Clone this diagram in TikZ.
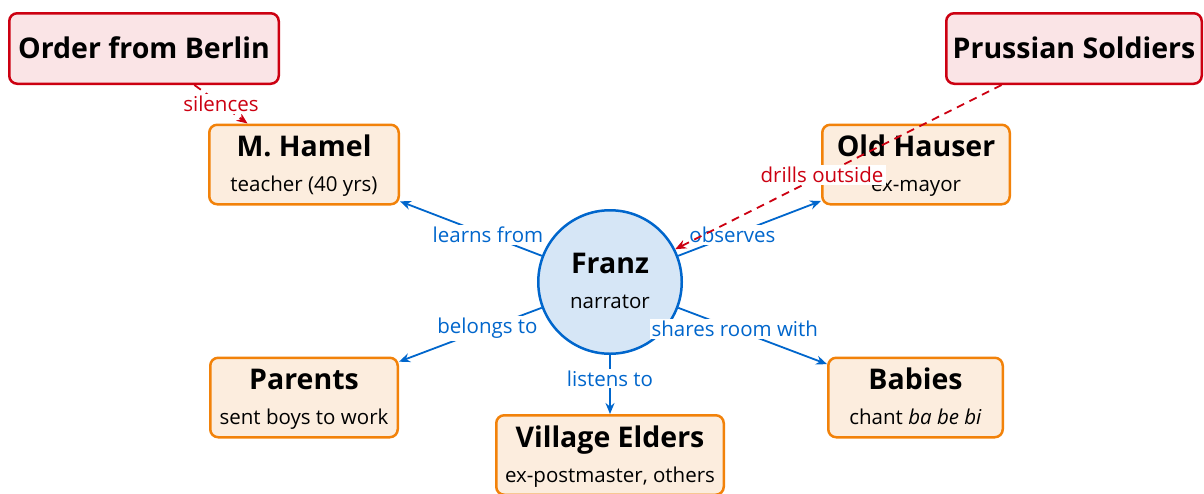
\documentclass[tikz,border=0pt]{standalone}
\usepackage{fontspec}
\setmainfont{Open Sans}
\usetikzlibrary{arrows.meta,calc}
\definecolor{orangeB}{RGB}{242,130,10}
\definecolor{peach}{RGB}{252,237,222}
\definecolor{redB}{RGB}{204,0,17}
\definecolor{pinkF}{RGB}{250,228,230}
\definecolor{blueE}{RGB}{0,102,204}
\definecolor{blueF}{RGB}{214,230,246}
\begin{document}
\begin{tikzpicture}[x=1pt,y=-1pt,
  box/.style={draw=orangeB, fill=peach, line width=2.5pt, rounded corners=8pt, minimum height=79.5pt, inner sep=0pt},
  redbox/.style={draw=redB, fill=pinkF, line width=2.5pt, rounded corners=8pt, minimum height=70.5pt, inner sep=0pt},
  circ/.style={circle, draw=blueE, fill=blueF, line width=2.5pt, minimum size=143.5pt, inner sep=0pt},
  ttl/.style={anchor=base, font=\bfseries\fontsize{28.5}{34}\selectfont, inner sep=0pt},
  sub/.style={anchor=base, font=\fontsize{20.5}{24}\selectfont, inner sep=0pt},
  blueedge/.style={draw=blueE, line width=1.8pt, -{Stealth[length=11pt,width=9pt]}},
  rededge/.style={draw=redB, line width=1.8pt, dash pattern=on 8pt off 6pt, -{Stealth[length=11pt,width=9pt]}},
  elabel/.style={fill=white, inner sep=2pt, font=\fontsize{20.5}{24}\selectfont, text=blueE},
  rlabel/.style={fill=white, inner sep=2pt, font=\fontsize{20.5}{24}\selectfont, text=redB},
]
\useasboundingbox (0,0) rectangle (1204,493);
\clip (0,0) rectangle (1204,493);

% nodes
\node[redbox, minimum width=269.5pt] (berlin) at (144,48.5) {};
\node[ttl] at ($(berlin.center)+(0,9.5)$) {Order from Berlin};
\node[redbox, minimum width=255.5pt] (prussian) at (1074,48.5) {};
\node[ttl] at ($(prussian.center)+(0,9.5)$) {Prussian Soldiers};

\node[box, minimum width=189.5pt] (hamel) at (304,164.5) {};
\node[ttl] at ($(hamel.center)+(0,-8)$) {M. Hamel};
\node[sub] at ($(hamel.center)+(0,27)$) {teacher (40 yrs)};

\node[box, minimum width=187.5pt] (hauser) at (916,164.5) {};
\node[ttl] at ($(hauser.center)+(0,-8)$) {Old Hauser};
\node[sub] at ($(hauser.center)+(0,27)$) {ex-mayor};

\node[box, minimum width=187.5pt] (parents) at (304,397.5) {};
\node[ttl] at ($(parents.center)+(0,-8)$) {Parents};
\node[sub] at ($(parents.center)+(0,27)$) {sent boys to work};

\node[box, minimum width=174.5pt] (babies) at (915.5,397.5) {};
\node[ttl] at ($(babies.center)+(0,-8)$) {Babies};
\node[sub] at ($(babies.center)+(0,27)$) {chant \textit{ba be bi}};

\node[box, minimum width=227.5pt] (elders) at (610,455) {};
\node[ttl] at ($(elders.center)+(0,-8)$) {Village Elders};
\node[sub] at ($(elders.center)+(0,27)$) {ex-postmaster, others};

\node[circ] (franz) at (610,282) {};
\node[ttl] at ($(franz.center)+(0,-9)$) {Franz};
\node[sub] at ($(franz.center)+(0,26)$) {narrator};

% edges
\draw[blueedge] (franz) -- node[elabel, pos=.38] {learns from} (hamel);
\draw[blueedge] (franz) -- node[elabel, pos=.38] {observes} (hauser);
\draw[blueedge] (franz) -- node[elabel, pos=.38] {belongs to} (parents);
\draw[blueedge] (franz) -- node[elabel, pos=.38] {shares room with} (babies);
\draw[blueedge] (franz) -- node[elabel, pos=.4] {listens to} (elders);
\draw[rededge] (berlin) -- node[rlabel, pos=.5] {silences} (hamel);
\draw[rededge] (prussian) -- node[rlabel, pos=.55] {drills outside} (franz);
\end{tikzpicture}
\end{document}
